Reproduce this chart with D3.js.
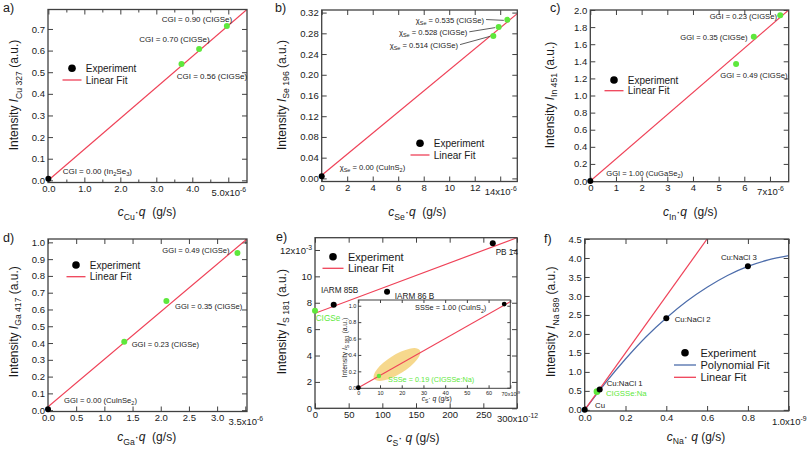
<!DOCTYPE html>
<html><head><meta charset="utf-8">
<script src="https://cdn.jsdelivr.net/npm/d3@7"></script>
<style>
body{margin:0;background:#fff;}
svg{display:block;font-family:'Liberation Sans',Arial,Helvetica,sans-serif;}
text{white-space:pre;}
</style></head><body>
<svg id="chart" width="807" height="449"></svg>
<script>
// ================= DATA =================
// (a) Cu 327
const aX = [0, 3.70, 4.19, 4.96];            // c_Cu·q  (1e-6 g/s)
const aY = [0.007, 0.538, 0.607, 0.714];     // I_Cu327 (a.u.)
const aKind = ["exp", "cigse", "cigse", "cigse"];
const aLabels = ["CGI = 0.00 (In_{2}Se_{3})", "CGI = 0.56 (CIGSe)", "CGI = 0.70 (CIGSe)", "CGI = 0.90 (CIGSe)"];
const aFitX = [0, 5.52], aFitY = [0.0, 0.79];
const aXTicks = [0, 1, 2, 3, 4, 5];
const aXTickLabels = ["0.0", "1.0", "2.0", "3.0", "4.0", "5.0x10^{-6}"];
const aXMinor = [0.5, 1.5, 2.5, 3.5, 4.5];
const aYTicks = [0, 0.1, 0.2, 0.3, 0.4, 0.5, 0.6, 0.7];
const aYTickLabels = ["0.0", "0.1", "0.2", "0.3", "0.4", "0.5", "0.6", "0.7"];

// (b) Se 196
const bX = [0, 13.46, 13.88, 14.56];
const bY = [0.004, 0.275, 0.292, 0.306];
const bKind = ["exp", "cigse", "cigse", "cigse"];
const bLabels = ["χ_{Se} = 0.00 (CuInS_{2})", "χ_{Se} = 0.514 (CIGSe)", "χ_{Se} = 0.528 (CIGSe)", "χ_{Se} = 0.535 (CIGSe)"];
const bFitX = [0, 15.34], bFitY = [0.006, 0.318];
const bXTicks = [0, 2, 4, 6, 8, 10, 12, 14];
const bXTickLabels = ["0", "2", "4", "6", "8", "10", "12", "14x10^{-6}"];
const bYTicks = [0, 0.04, 0.08, 0.12, 0.16, 0.20, 0.24, 0.28, 0.32];
const bYTickLabels = ["0.00", "0.04", "0.08", "0.12", "0.16", "0.20", "0.24", "0.28", "0.32"];

// (c) In 451
const cX = [0, 5.68, 6.37, 7.40];
const cY = [0.0, 1.368, 1.688, 1.94];
const cKind = ["exp", "cigse", "cigse", "cigse"];
const cLabels = ["GGI = 1.00 (CuGaSe_{2})", "GGI = 0.49 (CIGSe)", "GGI = 0.35 (CIGSe)", "GGI = 0.23 (CIGSe)"];
const cFitX = [0, 7.73], cFitY = [0.0, 2.0];
const cXTicks = [0, 1, 2, 3, 4, 5, 6, 7];
const cXTickLabels = ["0", "1", "2", "3", "4", "5", "6", "7x10^{-6}"];
const cYTicks = [0, 0.2, 0.4, 0.6, 0.8, 1.0, 1.2, 1.4, 1.6, 1.8, 2.0];
const cYTickLabels = ["0.0", "0.2", "0.4", "0.6", "0.8", "1.0", "1.2", "1.4", "1.6", "1.8", "2.0"];

// (d) Ga 417
const dX = [0, 1.353, 2.10, 3.36];
const dY = [0.005, 0.408, 0.65, 0.936];
const dKind = ["exp", "cigse", "cigse", "cigse"];
const dLabels = ["GGI = 0.00 (CuInSe_{2})", "GGI = 0.23 (CIGSe)", "GGI = 0.35 (CIGSe)", "GGI = 0.49 (CIGSe)"];
const dFitX = [0, 3.53], dFitY = [0.02, 1.02];
const dXTicks = [0, 0.5, 1.0, 1.5, 2.0, 2.5, 3.0, 3.5];
const dXTickLabels = ["0.0", "0.5", "1.0", "1.5", "2.0", "2.5", "3.0", "3.5x10^{-6}"];
const dYTicks = [0, 0.1, 0.2, 0.3, 0.4, 0.5, 0.6, 0.7, 0.8, 0.9, 1.0];
const dYTickLabels = ["0.0", "0.1", "0.2", "0.3", "0.4", "0.5", "0.6", "0.7", "0.8", "0.9", "1.0"];

// (e) S 181 (main)
const eX = [0, 27.8, 107, 264];              // 1e-12 g/s
const eY = [7.4, 7.85, 8.84, 12.5];          // 1e-3 a.u.
const eKind = ["cigse", "exp", "exp", "exp"];
const eLabels = ["CIGSe", "IARM 85B", "IARM 86 B", "PB 14"];
const eFitX = [0, 300], eFitY = [7.2, 12.93];
const eXTicks = [0, 50, 100, 150, 200, 250, 300];
const eXTickLabels = ["0", "50", "100", "150", "200", "250", "300x10^{-12}"];
const eYTicks = [0, 2, 4, 6, 8, 10, 12];
const eYTickLabels = ["0", "2", "4", "6", "8", "10", "12x10^{-3}"];
// (e) inset
const iX = [0, 9.5, 67.2];                   // 1e-9 g/s
const iY = [0.0, 0.143, 1.02];
const iKind = ["exp", "cigse", "exp"];
const iLabels = ["", "SSSe = 0.19 (CIGSSe:Na)", "SSSe = 1.00 (CuInS_{2})"];
const iFitX = [0, 70], iFitY = [0.0, 1.05];
const iRegion = [17.8, 0.283];               // centre of highlighted region
const iXTicks = [0, 10, 20, 30, 40, 50, 60, 70];
const iXTickLabels = ["0", "10", "20", "30", "40", "50", "60", "70x10^{-9}"];
const iYTicks = [0, 0.2, 0.4, 0.6, 0.8, 1.0];
const iYTickLabels = ["0.0", "0.2", "0.4", "0.6", "0.8", "1.0"];

// (f) Na 589
const fX = [0, 0.06, 0.0735, 0.40, 0.80];    // 1e-9 g/s
const fY = [0, 0.48, 0.534, 2.41, 3.78];
const fKind = ["exp", "cigse", "exp", "exp", "exp"];
const fLabels = ["Cu", "CIGSSe:Na", "Cu:NaCl 1", "Cu:NaCl 2", "Cu:NaCl 3"];
const fPolyX = [0, 0.1, 0.2, 0.3, 0.4, 0.5, 0.6, 0.7, 0.8, 0.9, 1.0];
const fPolyY = [0, 0.70, 1.34, 1.92, 2.42, 2.86, 3.23, 3.54, 3.78, 3.95, 4.06];
const fFitX = [0, 0.6], fFitY = [0, 4.5];
const fXTicks = [0, 0.2, 0.4, 0.6, 0.8, 1.0];
const fXTickLabels = ["0.0", "0.2", "0.4", "0.6", "0.8", "1.0x10^{-9}"];
const fYTicks = [0, 0.5, 1.0, 1.5, 2.0, 2.5, 3.0, 3.5, 4.0, 4.5];
const fYTickLabels = ["0.0", "0.5", "1.0", "1.5", "2.0", "2.5", "3.0", "3.5", "4.0", "4.5"];

// ================= STYLE / DRAWING =================
const RED = "#ef4258", GREEN = "#5ee83c", BLUE = "#4d6dab", FRAME = "#404040", INK = "#1a1a1a";
const svg = d3.select('#chart');

function rich(sel, str, fs) {
  const re = /(_\{[^}]*\}|\^\{[^}]*\}|\/\{[^}]*\})/;
  const parts = str.split(re).filter(s => s && s.length);
  let cur = 0;
  for (const p of parts) {
    let t = p, kind = 'n';
    if (p.startsWith('_{')) { kind = 'sub'; t = p.slice(2, -1); }
    else if (p.startsWith('^{')) { kind = 'sup'; t = p.slice(2, -1); }
    else if (p.startsWith('/{')) { kind = 'it'; t = p.slice(2, -1); }
    const ts = sel.append('tspan').text(t);
    let target = 0;
    if (kind === 'sub') { ts.attr('font-size', fs * 0.72); target = fs * 0.28; }
    if (kind === 'sup') { ts.attr('font-size', fs * 0.72); target = -fs * 0.42; }
    if (kind === 'it') ts.attr('font-style', 'italic');
    if (target !== cur) ts.attr('dy', (target - cur).toFixed(2));
    cur = target;
  }
  return sel;
}

function styleAxis(ag, fs) {
  ag.attr('font-family', null).attr('font-size', fs);
  ag.select('.domain').remove();
  ag.selectAll('.tick line').attr('stroke', FRAME).attr('stroke-width', 1);
  ag.selectAll('.tick text').attr('fill', INK).each(function () {
    const s = this.textContent;
    if (/[\^_]\{/.test(s)) { const t = d3.select(this); t.text(''); rich(t, s, fs); t.classed('exp', true); }
  });
}

function panel(c) {
  const [l, r, t, b] = c.box;
  const g = svg.append('g');
  const x = d3.scaleLinear().domain(c.xDom).range([l, r]);
  const y = d3.scaleLinear().domain(c.yDom).range([b, t]);
  if (c.bg) g.append('rect').attr('x', l).attr('y', t).attr('width', r - l).attr('height', b - t).attr('fill', '#fff');
  const tl = c.tickLen, fs = c.tickFont, ml = c.tickLen * 0.6;

  const ab = g.append('g').attr('transform', `translate(0,${b})`)
    .call(d3.axisBottom(x).tickValues(c.xTicks).tickFormat((d, i) => c.xTickLabels[i]).tickSize(-tl).tickSizeOuter(0).tickPadding(c.xPad));
  styleAxis(ab, fs);
  ab.selectAll('.tick text.exp').attr('y', c.xPad + c.expDrop);
  const al = g.append('g').attr('transform', `translate(${l},0)`)
    .call(d3.axisLeft(y).tickValues(c.yTicks).tickFormat((d, i) => c.yTickLabels[i]).tickSize(-tl).tickSizeOuter(0).tickPadding(c.yPad));
  styleAxis(al, fs);
  const at = g.append('g').attr('transform', `translate(0,${t})`)
    .call(d3.axisTop(x).tickValues(c.xTicks).tickFormat(() => '').tickSize(-tl).tickSizeOuter(0));
  styleAxis(at, fs);
  const ar = g.append('g').attr('transform', `translate(${r},0)`)
    .call(d3.axisRight(y).tickValues(c.yTicks).tickFormat(() => '').tickSize(-tl).tickSizeOuter(0));
  styleAxis(ar, fs);
  if (c.xMinor) {
    styleAxis(g.append('g').attr('transform', `translate(0,${b})`)
      .call(d3.axisBottom(x).tickValues(c.xMinor).tickFormat(() => '').tickSize(-ml).tickSizeOuter(0)), fs);
    styleAxis(g.append('g').attr('transform', `translate(0,${t})`)
      .call(d3.axisTop(x).tickValues(c.xMinor).tickFormat(() => '').tickSize(-ml).tickSizeOuter(0)), fs);
  }

  const clipId = c.id + '-clip';
  g.append('clipPath').attr('id', clipId).append('rect')
    .attr('x', l).attr('y', t).attr('width', r - l).attr('height', b - t);
  const inner = g.append('g').attr('clip-path', `url(#${clipId})`);

  if (c.region) {
    inner.append('ellipse')
      .attr('transform', `translate(${x(c.region.at[0])},${y(c.region.at[1])}) rotate(${c.region.angle})`)
      .attr('rx', c.region.rx).attr('ry', c.region.ry)
      .attr('fill', '#f2c75c').attr('fill-opacity', 0.7);
  }
  for (const f of c.fits) {
    inner.append('path').datum(d3.zip(f.xs, f.ys))
      .attr('d', d3.line().x(d => x(d[0])).y(d => y(d[1])).curve(f.curve || d3.curveLinear))
      .attr('fill', 'none').attr('stroke', f.color).attr('stroke-width', c.lineW);
  }
  g.append('rect').attr('x', l).attr('y', t).attr('width', r - l).attr('height', b - t)
    .attr('fill', 'none').attr('stroke', FRAME).attr('stroke-width', c.frameW);

  const pts = d3.range(c.xs.length).map(i => ({ x: c.xs[i], y: c.ys[i], k: c.kinds[i], lab: c.labels[i], i }));
  g.append('g').selectAll('circle').data(pts).join('circle')
    .attr('cx', d => x(d.x)).attr('cy', d => y(d.y))
    .attr('r', d => d.k === 'exp' ? c.rExp : c.rSample)
    .attr('fill', d => d.k === 'exp' ? '#000' : GREEN);

  pts.forEach(d => {
    if (!d.lab) return;
    const off = c.labelOff[d.i];
    const px = x(d.x), py = y(d.y);
    const tx = g.append('text').attr('x', px + off[0]).attr('y', py + off[1])
      .attr('font-size', c.labelFont).attr('fill', (c.greenLabels && d.k !== 'exp') ? GREEN : INK);
    rich(tx, d.lab, c.labelFont);
    if (c.leaders && c.leaders[d.i]) {
      const len = tx.node().getComputedTextLength();
      g.append('line').attr('x1', px + off[0] + len + 2).attr('y1', py + off[1] - 3.5)
        .attr('x2', px - c.rSample - 0.5).attr('y2', py + 0.5)
        .attr('stroke', '#333').attr('stroke-width', 0.8);
    }
  });

  if (c.legend) {
    const L = c.legend;
    L.items.forEach((it, j) => {
      const yy = L.y0 + j * L.gap;
      if (it.type === 'dot') g.append('circle').attr('cx', L.cx).attr('cy', yy).attr('r', L.r).attr('fill', '#000');
      else g.append('line').attr('x1', L.cx - L.half).attr('x2', L.cx + L.half).attr('y1', yy).attr('y2', yy)
        .attr('stroke', it.color).attr('stroke-width', 1.3);
      g.append('text').attr('x', L.cx + L.dx).attr('y', yy + L.fs * 0.36).attr('font-size', L.fs).attr('fill', INK).text(it.text);
    });
  }
  if (c.yTitle) {
    const T = c.yTitle;
    const tt = g.append('text').attr('transform', `translate(${T.cx + T.fs * 0.36},${T.cy}) rotate(-90)`)
      .attr('text-anchor', 'middle').attr('font-size', T.fs).attr('fill', INK);
    rich(tt, T.text, T.fs);
  }
  if (c.xTitle) {
    const T = c.xTitle;
    const tt = g.append('text').attr('x', T.cx).attr('y', T.cy + T.fs * 0.36)
      .attr('text-anchor', 'middle').attr('font-size', T.fs).attr('fill', INK);
    rich(tt, T.text, T.fs);
  }
  if (c.letter) {
    g.append('text').attr('x', c.letter[1]).attr('y', c.letter[2]).attr('font-size', 12.5).attr('fill', INK).text(c.letter[0]);
  }
  return { x, y, g };
}

const common = { tickLen: 5, tickFont: 9.5, xPad: 3, yPad: 3, expDrop: 4, frameW: 1.3, lineW: 1.2, rExp: 3, rSample: 3, labelFont: 7.6, greenLabels: false };
const redFit = (xs, ys) => ({ xs, ys, color: RED });
const leg2 = (cx, y0, gap, fs) => ({ cx, y0, gap, dx: fs * 1.38, half: 9.5, r: 3.8, fs,
  items: [{ type: 'dot', text: 'Experiment' }, { type: 'line', color: RED, text: 'Linear Fit' }] });

// (a)
panel(Object.assign({}, common, {
  id: 'pa', box: [48, 247, 9.5, 182.5], xDom: [-0.01, 5.52], yDom: [-0.01, 0.79],
  xTicks: aXTicks, xTickLabels: aXTickLabels, xMinor: aXMinor, yTicks: aYTicks, yTickLabels: aYTickLabels,
  xs: aX, ys: aY, kinds: aKind, labels: aLabels, labelFont: 8,
  labelOff: [[14.3, -4.6], [-4.8, 15], [-59.9, -6.8], [-65.2, -3.9]],
  fits: [redFit(aFitX, aFitY)],
  legend: leg2(72, 68.3, 11.7, 10),
  yTitle: { text: 'Intensity /{I}_{Cu 327} (a.u.)', cx: 14, cy: 95, fs: 12 },
  xTitle: { text: '/{c}_{Cu}·/{q}  (g/s)', cx: 147, cy: 212, fs: 12 },
  letter: ['a)', 3, 11.5]
}));

// (b)
panel(Object.assign({}, common, {
  id: 'pb', box: [321.7, 517.3, 10, 181.5], xDom: [0, 15.34], yDom: [-0.006, 0.325],
  xTicks: bXTicks, xTickLabels: bXTickLabels, yTicks: bYTicks, yTickLabels: bYTickLabels,
  xs: bX, ys: bY, kinds: bKind, labels: bLabels,
  labelOff: [[18, -6], [-103.6, 12.2], [-99.7, 8.2], [-91.6, 3.2]],
  leaders: [false, true, true, true],
  fits: [redFit(bFitX, bFitY)],
  legend: leg2(420, 143.3, 11.7, 10),
  yTitle: { text: 'Intensity /{I}_{Se 196} (a.u.)', cx: 281.3, cy: 95, fs: 12 },
  xTitle: { text: '/{c}_{Se}·/{q}  (g/s)', cx: 417.3, cy: 212, fs: 12 },
  letter: ['b)', 275, 11.5]
}));

// (c)
panel(Object.assign({}, common, {
  id: 'pc', box: [590.3, 788.7, 10, 181.7], xDom: [0, 7.73], yDom: [-0.008, 2.0],
  xTicks: cXTicks, xTickLabels: cXTickLabels, yTicks: cYTicks, yTickLabels: cYTickLabels,
  xs: cX, ys: cY, kinds: cKind, labels: cLabels,
  labelOff: [[16, -4.7], [-15.8, 14.3], [-73.5, 3.6], [-70.6, 3.6]],
  fits: [redFit(cFitX, cFitY)],
  legend: leg2(614, 80, 10.7, 10),
  yTitle: { text: 'Intensity /{I}_{In 451} (a.u.)', cx: 549.7, cy: 95, fs: 12 },
  xTitle: { text: '/{c}_{In}·/{q}  (g/s)', cx: 690.3, cy: 212, fs: 12 },
  letter: ['c)', 550, 11.5]
}));

// (d)
panel(Object.assign({}, common, {
  id: 'pd', box: [48, 247, 239, 411.5], xDom: [0, 3.53], yDom: [-0.008, 1.02],
  xTicks: dXTicks, xTickLabels: dXTickLabels, yTicks: dYTicks, yTickLabels: dYTickLabels,
  xs: dX, ys: dY, kinds: dKind, labels: dLabels,
  labelOff: [[16, -6.3], [7.4, 5.3], [8.6, 7.6], [-75.1, 0]],
  fits: [redFit(dFitX, dFitY)],
  legend: leg2(76, 265, 11.7, 10),
  yTitle: { text: 'Intensity /{I}_{Ga 417} (a.u.)', cx: 13.3, cy: 321.7, fs: 12 },
  xTitle: { text: '/{c}_{Ga}·/{q}  (g/s)', cx: 146.7, cy: 437, fs: 12 },
  letter: ['d)', 3, 242]
}));

// (e) main
panel(Object.assign({}, common, {
  id: 'pe', box: [315, 517, 237.7, 408.3], xDom: [0, 300], yDom: [0, 12.93],
  xTicks: eXTicks, xTickLabels: eXTickLabels, yTicks: eYTicks, yTickLabels: eYTickLabels,
  xs: eX, ys: eY, kinds: eKind, labels: eLabels, labelFont: 8.2, greenLabels: true,
  labelOff: [[0.7, 10.6], [-12.7, -11.7], [7.7, 7], [2.9, 11.3]],
  fits: [redFit(eFitX, eFitY)],
  legend: Object.assign(leg2(333, 256.7, 11.6, 11), { dx: 15, half: 10.5 }),
  yTitle: { text: 'Intensity /{I}_{S 181} (a.u.)', cx: 281.3, cy: 321.7, fs: 12 },
  xTitle: { text: '/{c}_{S}· /{q} (g/s)', cx: 413, cy: 438, fs: 12 },
  letter: ['e)', 276, 241]
}));
// (e) inset
panel(Object.assign({}, common, {
  id: 'pi', bg: true, box: [358.3, 510.3, 300, 388.3], xDom: [0, 70], yDom: [-0.007, 1.07],
  tickLen: 3, tickFont: 5.5, xPad: 2.5, yPad: 2, expDrop: 1.5, frameW: 1, lineW: 1.1, rExp: 2.4, rSample: 2.2,
  xTicks: iXTicks, xTickLabels: iXTickLabels, yTicks: iYTicks, yTickLabels: iYTickLabels,
  xs: iX, ys: iY, kinds: iKind, labels: iLabels, labelFont: 7.3, greenLabels: true,
  labelOff: [[0, 0], [9.1, 6], [-89.2, 6.4]],
  fits: [redFit(iFitX, iFitY)],
  region: { at: iRegion, rx: 27, ry: 9.5, angle: -32 },
  yTitle: { text: 'Intensity /{I}_{S 181} (a.u.)', cx: 345, cy: 347.5, fs: 6.8 },
  xTitle: { text: '/{c}_{S}· /{q} (g/s)', cx: 436.7, cy: 398.3, fs: 6.8 }
}));

// (f)
panel(Object.assign({}, common, {
  id: 'pf', box: [584.7, 788.7, 239, 411], xDom: [0, 1.0], yDom: [-0.03, 4.5],
  xTicks: fXTicks, xTickLabels: fXTickLabels, yTicks: fYTicks, yTickLabels: fYTickLabels,
  xs: fX, ys: fY, kinds: fKind, labels: fLabels, labelFont: 7.8, rSample: 3.3, greenLabels: true,
  labelOff: [[10.3, -1.6], [9, 4.6], [7, -3.3], [8.4, 4], [-27, -6]],
  fits: [{ xs: fPolyX, ys: fPolyY, color: BLUE, curve: d3.curveMonotoneX }, redFit(fFitX, fFitY)],
  legend: { cx: 685, y0: 352.7, gap: 12.3, dx: 15.5, half: 11, r: 3.8, fs: 11,
    items: [{ type: 'dot', text: 'Experiment' }, { type: 'line', color: BLUE, text: 'Polynomial Fit' }, { type: 'line', color: RED, text: 'Linear Fit' }] },
  yTitle: { text: 'Intensity /{I}_{Na 589} (a.u.)', cx: 551, cy: 321.7, fs: 12 },
  xTitle: { text: '/{c}_{Na}· /{q} (g/s)', cx: 696, cy: 436.7, fs: 12 },
  letter: ['f)', 544, 243]
}));
</script>
</body></html>
